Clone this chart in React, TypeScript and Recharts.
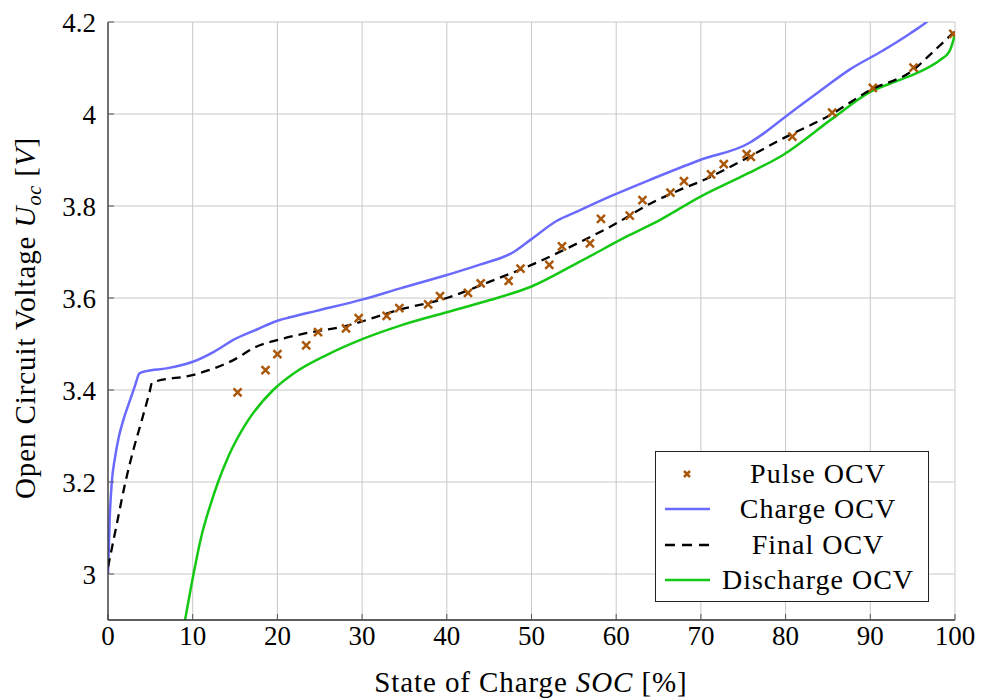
import React from 'react';
import { ComposedChart, Line, Scatter, XAxis, YAxis, CartesianGrid } from 'recharts';

// Pulse OCV measurements (SOC %, voltage)
const pulseSoc = [15.3, 18.6, 20.0, 23.4, 24.8, 28.1, 29.6, 32.9, 34.4, 37.8, 39.2, 42.5, 44.0, 47.3, 48.7, 52.1, 53.6, 56.9, 58.2, 61.6, 63.1, 66.4, 68.0, 71.2, 72.7, 75.4, 75.9, 80.8, 85.5, 90.3, 95.1, 99.8];
const pulseV = [3.395, 3.443, 3.478, 3.497, 3.526, 3.534, 3.556, 3.561, 3.578, 3.586, 3.604, 3.611, 3.632, 3.637, 3.664, 3.672, 3.712, 3.719, 3.772, 3.779, 3.813, 3.829, 3.854, 3.869, 3.891, 3.913, 3.907, 3.951, 4.003, 4.057, 4.101, 4.174];

const chargeSoc = [0, 0.2, 0.45, 0.8, 1.3, 1.9, 2.6, 3.2, 3.7, 4.5, 6.9, 10.1, 12.5, 14.8, 17.5, 20.1, 21.5, 24.6, 30.1, 34.5, 40.0, 44.0, 47.9, 50.0, 53.0, 55.5, 59.7, 64.0, 69.9, 75.8, 77.5, 79.9, 83.7, 87.6, 91.5, 94.7, 96.9, 100];
const chargeV = [3.0, 3.12, 3.2, 3.25, 3.3, 3.34, 3.378, 3.41, 3.436, 3.441, 3.447, 3.462, 3.483, 3.509, 3.531, 3.551, 3.558, 3.572, 3.597, 3.621, 3.65, 3.673, 3.7, 3.728, 3.768, 3.789, 3.824, 3.857, 3.9, 3.938, 3.959, 3.993, 4.045, 4.097, 4.138, 4.175, 4.204, 4.27];

const finalSoc = [0, 1.0, 2.0, 3.0, 4.0, 4.9, 5.2, 10.1, 14.8, 17.5, 20.1, 23.0, 27.8, 34.5, 40.0, 45.0, 50.0, 55.0, 59.7, 64.0, 67.5, 69.9, 75.0, 79.7, 85.0, 90.0, 95.1, 97.4, 100];
const finalV = [3.015, 3.105, 3.195, 3.27, 3.335, 3.395, 3.416, 3.433, 3.465, 3.494, 3.509, 3.522, 3.538, 3.575, 3.6, 3.635, 3.672, 3.715, 3.759, 3.805, 3.835, 3.853, 3.9, 3.947, 3.995, 4.052, 4.096, 4.135, 4.18];

const dischargeSoc = [9.1, 10.1, 11.0, 12.0, 13.0, 14.2, 16.4, 19.5, 22.0, 25.8, 29.8, 34.5, 40.0, 45.0, 50.0, 55.7, 61.6, 65.2, 69.9, 75.0, 79.7, 85.6, 90.0, 93.5, 96.3, 98.2, 99.3, 99.8, 100];
const dischargeV = [2.9, 3.0, 3.08, 3.145, 3.2, 3.255, 3.33, 3.4, 3.437, 3.476, 3.509, 3.54, 3.569, 3.595, 3.625, 3.679, 3.737, 3.77, 3.82, 3.866, 3.911, 3.991, 4.048, 4.074, 4.096, 4.117, 4.135, 4.16, 4.175];

const xTicks = [0, 10, 20, 30, 40, 50, 60, 70, 80, 90, 100];
const yTicks = [3, 3.2, 3.4, 3.6, 3.8, 4, 4.2];

const FONT = "'Liberation Serif', 'DejaVu Serif', serif";
const BLUE = '#6a6aff';
const GREEN = '#14c814';
const BROWN = '#a9580b';
const FRAME = '#333';

const zip = (xs: number[], ys: number[]) => xs.map((x, i) => ({ x, y: ys[i] }));

const pulseData = zip(pulseSoc, pulseV);
const chargeData = zip(chargeSoc, chargeV);
const finalData = zip(finalSoc, finalV);
const dischargeData = zip(dischargeSoc, dischargeV);

const XMark = (props: any) => {
  const { cx, cy } = props;
  const s = 4;
  return (
    <path
      d={`M${cx - s},${cy - s}L${cx + s},${cy + s}M${cx - s},${cy + s}L${cx + s},${cy - s}`}
      stroke={BROWN}
      strokeWidth={2.5}
      fill="none"
    />
  );
};

const YLabel = () => (
  <text transform="translate(35,318) rotate(-90)" textAnchor="middle" fontFamily={FONT} fontSize={29} letterSpacing={0.9} fill="#000">
    Open Circuit Voltage{' '}
    <tspan fontStyle="italic">U</tspan>
    <tspan fontStyle="italic" fontSize={20} dy={6}>oc</tspan>
    <tspan dy={-6}> [</tspan>
    <tspan fontStyle="italic">V</tspan>
    <tspan>]</tspan>
  </text>
);

const XLabel = () => (
  <text x={531} y={692} textAnchor="middle" fontFamily={FONT} fontSize={29} letterSpacing={0.9} fill="#000">
    State of Charge <tspan fontStyle="italic">SOC</tspan> [%]
  </text>
);

const legendRows = [
  { label: 'Pulse OCV', kind: 'mark' },
  { label: 'Charge OCV', kind: 'blue' },
  { label: 'Final OCV', kind: 'dash' },
  { label: 'Discharge OCV', kind: 'green' },
];

const LegendBox = () => (
  <div
    style={{
      position: 'absolute',
      left: 655,
      top: 451,
      width: 274,
      height: 151,
      border: '1px solid #222',
      background: '#fff',
      fontFamily: FONT,
      fontSize: 28,
      letterSpacing: 1,
      lineHeight: 1,
      boxSizing: 'border-box',
      paddingTop: 4,
    }}
  >
    {legendRows.map(r => (
      <div key={r.label} style={{ display: 'flex', alignItems: 'center', height: 35.5 }}>
        <svg width={56} height={20} style={{ flex: 'none' }}>
          {r.kind === 'mark' && (
            <path d="M28,7L34,13M28,13L34,7" stroke={BROWN} strokeWidth={2.5} />
          )}
          {r.kind === 'blue' && <line x1={9} x2={54} y1={10} y2={10} stroke={BLUE} strokeWidth={2.5} />}
          {r.kind === 'dash' && (
            <line x1={9} x2={54} y1={10} y2={10} stroke="#000" strokeWidth={2.5} strokeDasharray="10 7" />
          )}
          {r.kind === 'green' && <line x1={9} x2={54} y1={10} y2={10} stroke={GREEN} strokeWidth={2.5} />}
        </svg>
        <span style={{ flex: 1, textAlign: 'center', paddingRight: 4, whiteSpace: 'nowrap' }}>{r.label}</span>
      </div>
    ))}
  </div>
);

const blank = () => '';

const App: React.FC = () => {
  return (
    <div style={{ position: 'absolute', left: 0, top: 0, width: 984, height: 700, background: '#fff' }}>
      <ComposedChart width={984} height={700} margin={{ top: 22, right: 29, bottom: 0, left: 0 }}>
        <CartesianGrid stroke="#c8c8c8" strokeWidth={1} />
        <XAxis
          dataKey="x"
          type="number"
          domain={[0, 100]}
          ticks={xTicks}
          allowDataOverflow
          height={80}
          tickSize={-6}
          tickMargin={12}
          tickLine={{ stroke: '#555' }}
          axisLine={{ stroke: FRAME, strokeWidth: 1.3 }}
          tick={{ fill: '#000', fontSize: 27, fontFamily: FONT }}
          label={<XLabel />}
        />
        <XAxis
          xAxisId="top"
          orientation="top"
          type="number"
          domain={[0, 100]}
          ticks={xTicks}
          height={0}
          tickSize={-6}
          tickFormatter={blank}
          tickLine={{ stroke: '#555' }}
          axisLine={{ stroke: FRAME, strokeWidth: 1.3 }}
        />
        <YAxis
          type="number"
          domain={[2.9, 4.2]}
          ticks={yTicks}
          allowDataOverflow
          width={108}
          tickSize={-6}
          tickMargin={18}
          tickLine={{ stroke: '#555' }}
          axisLine={{ stroke: FRAME, strokeWidth: 1.3 }}
          tick={{ fill: '#000', fontSize: 27, fontFamily: FONT }}
          label={<YLabel />}
        />
        <YAxis
          yAxisId="right"
          orientation="right"
          type="number"
          domain={[2.9, 4.2]}
          ticks={yTicks}
          width={0}
          tickSize={-6}
          tickFormatter={blank}
          tickLine={{ stroke: '#555' }}
          axisLine={{ stroke: FRAME, strokeWidth: 1.3 }}
        />
        <Line data={chargeData} dataKey="y" type="monotone" stroke={BLUE} strokeWidth={2.5} dot={false} isAnimationActive={false} />
        <Line data={dischargeData} dataKey="y" type="monotone" stroke={GREEN} strokeWidth={2.5} dot={false} isAnimationActive={false} />
        <Line data={finalData} dataKey="y" type="monotone" stroke="#000" strokeWidth={2.3} strokeDasharray="9 6" dot={false} isAnimationActive={false} />
        <Scatter data={pulseData} dataKey="y" shape={<XMark />} isAnimationActive={false} />
      </ComposedChart>
      <LegendBox />
    </div>
  );
};

export default App;
